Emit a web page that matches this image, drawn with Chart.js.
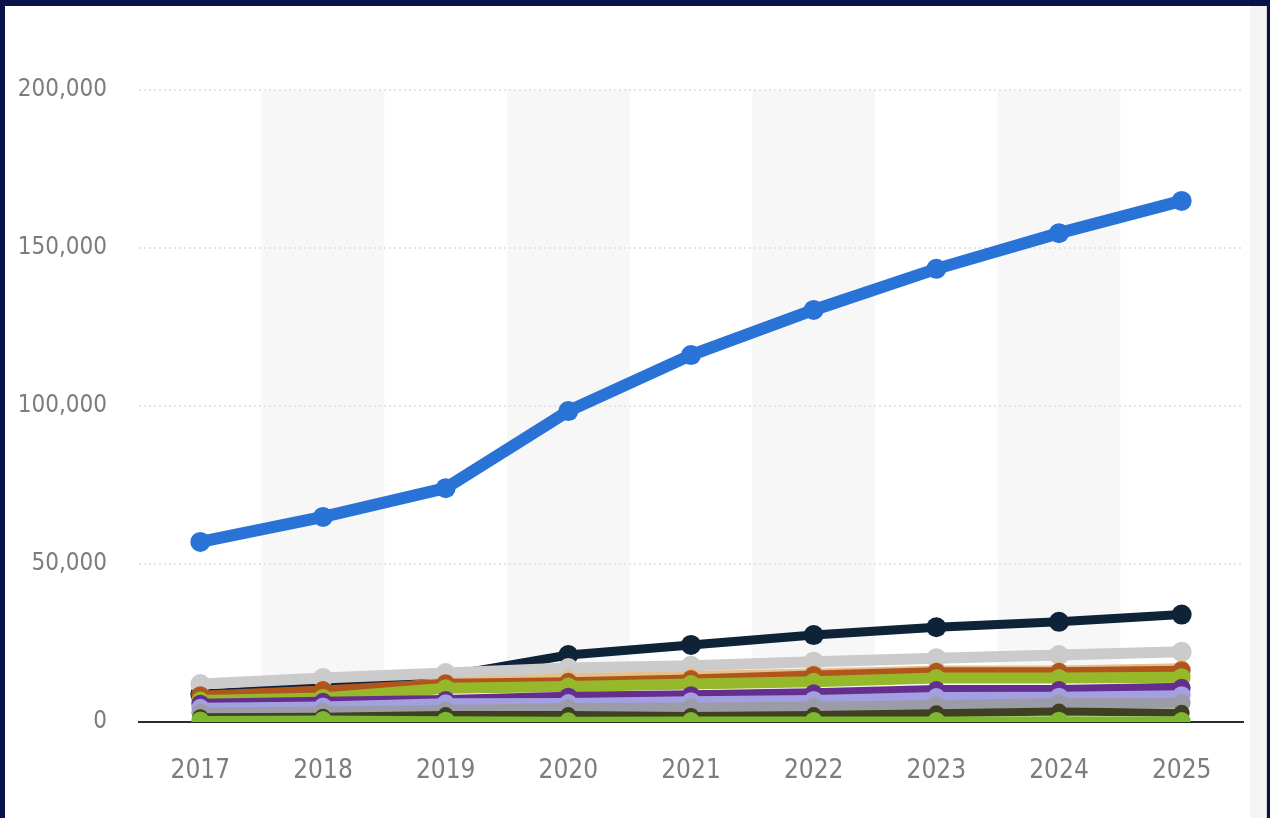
<!DOCTYPE html>
<html>
<head>
<meta charset="utf-8">
<script src="https://cdn.jsdelivr.net/npm/chart.js@4.4.0/dist/chart.umd.min.js"></script>
<style>
  html, body { margin: 0; padding: 0; background: #08134a; width: 1270px; height: 818px; overflow: hidden; }
  .card { position: absolute; left: 5px; top: 6px; width: 1262px; height: 812px; background: #fff; }
  .edge { position: absolute; left: 1250px; top: 6px; width: 16px; height: 812px; background: #f5f5f7; border-right: 1px solid #d8d8dc; }
  #chart { position: absolute; left: 0; top: 0; }
</style>
</head>
<body>
<div class="card"></div>
<div class="edge"></div>
<canvas id="chart" width="1270" height="818"></canvas>
<script>
const years = ['2017', '2018', '2019', '2020', '2021', '2022', '2023', '2024', '2025'];
const yTicks = [0, 50000, 100000, 150000, 200000];

// series, bottom-most first so the lower lines sit on top when drawn
const greenVals    = [500, 600, 400, 200, 300, 300, 300, 400, 300];
const darkVals     = [1500, 1700, 2200, 2200, 1900, 2200, 2800, 3300, 2900];
const grayVals     = [3000, 3300, 3800, 4400, 4600, 4800, 5400, 6000, 6000];
const lavenderVals = [4500, 4900, 5900, 6000, 6600, 7000, 7900, 8000, 8500];
const purpleVals   = [5800, 6400, 7000, 8000, 8500, 9100, 10100, 10100, 10800];
const limeVals     = [6800, 7600, 10700, 11200, 12000, 12700, 13900, 13900, 14200];
const brownVals    = [8500, 10100, 12300, 12700, 13600, 14900, 15900, 15900, 16400];
const tanVals      = [7700, 9100, 13000, 14300, 15000, 15800, 16800, 16800, 17500];
const silverVals   = [12000, 13900, 15500, 17100, 17800, 19100, 20200, 21200, 22200];
const navyVals     = [8800, 11200, 14500, 21200, 24400, 27500, 30000, 31700, 34000];
const blueVals     = [57000, 64900, 74000, 98400, 116100, 130400, 143400, 154700, 164900];

function line(data, color, width, radius) {
  return {
    data,
    borderColor: color,
    backgroundColor: color,
    pointBackgroundColor: color,
    pointBorderColor: color,
    borderWidth: width,
    pointRadius: radius,
    pointBorderWidth: 0,
    tension: 0,
    fill: false
  };
}

// alternating column shading behind every other year
const columnBands = {
  id: 'columnBands',
  beforeDraw(chart) {
    const { ctx, chartArea, scales: { x } } = chart;
    const w = x.width / years.length;
    ctx.save();
    ctx.fillStyle = '#f7f7f8';
    years.forEach((y, i) => {
      if (i % 2 === 1) {
        const cx = x.getPixelForValue(i);
        ctx.fillRect(cx - w / 2, chartArea.top, w, chartArea.bottom - chartArea.top);
      }
    });
    ctx.restore();
  }
};

const fontFamily = '"DejaVu Sans Condensed", "Noto Sans", sans-serif';

new Chart(document.getElementById('chart').getContext('2d'), {
  type: 'line',
  data: {
    labels: years,
    datasets: [
      line(greenVals, '#7cb830', 9, 9),
      line(darkVals, '#3f3f22', 8, 8),
      line(grayVals, '#9c9ca8', 10, 9),
      line(lavenderVals, '#a3a0e2', 10, 9),
      line(purpleVals, '#652d8e', 10, 9),
      line(limeVals, '#95b92a', 11, 9),
      line(brownVals, '#b0561c', 9, 9),
      line(tanVals, '#e6c089', 7, 7),
      line(silverVals, '#cbcbcb', 11, 10),
      line(navyVals, '#0e2238', 9, 10),
      line(blueVals, '#2a73d6', 12, 10)
    ]
  },
  options: {
    responsive: false,
    animation: false,
    layout: { padding: { top: 90, right: 27, bottom: 0, left: 0 } },
    plugins: { legend: { display: false }, tooltip: { enabled: false } },
    scales: {
      x: {
        offset: true,
        grid: { display: false, drawTicks: false },
        border: { display: true, color: '#2b2b2b', width: 2 },
        ticks: { color: '#7d7d7d', padding: 34, font: { family: fontFamily, size: 26 } },
        afterFit(scale) { scale.height = 96; }
      },
      y: {
        min: 0,
        max: 200000,
        afterBuildTicks(scale) { scale.ticks = yTicks.map(v => ({ value: v })); },
        grid: {
          drawTicks: false,
          lineWidth: 2,
          color: ctx => (ctx.tick && ctx.tick.value === 0 ? 'rgba(0,0,0,0)' : '#e4e4e4')
        },
        border: { display: false, dash: [2, 3] },
        ticks: {
          color: '#7d7d7d',
          padding: 32,
          font: { family: fontFamily, size: 24 },
          callback: v => v.toLocaleString('en-US')
        },
        afterFit(scale) { scale.width = 139; }
      }
    }
  },
  plugins: [columnBands]
});
</script>
</body>
</html>
